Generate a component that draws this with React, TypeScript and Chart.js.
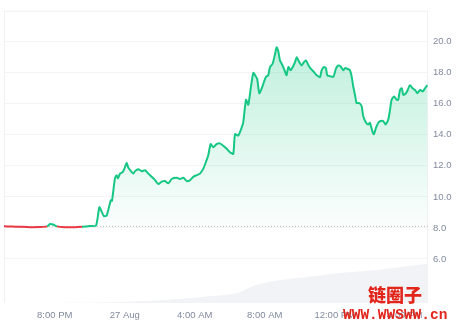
import { useEffect, useRef } from "react";
import { Chart, registerables } from "chart.js";
Chart.register(...registerables);

// hours since 26 Aug 00:00
const times = [
  17.10, 17.56, 18.01, 18.59, 19.16, 19.56, 19.73, 19.90, 20.13, 20.59, 21.16, 21.56, 22.01, 22.36,
  22.55, 22.70, 22.81, 22.97, 23.20, 23.27, 23.44, 23.54, 23.61, 23.73, 23.88, 24.01, 24.11, 24.20,
  24.40, 24.49, 24.59, 24.77, 24.97, 25.16, 25.35, 25.54, 25.73, 25.92, 26.11, 26.30, 26.49, 26.68,
  26.97, 27.16, 27.35, 27.54, 27.73, 27.92, 28.11, 28.30, 28.49, 28.64, 28.77, 28.91, 29.06, 29.25,
  29.44, 29.63, 29.83, 30.01, 30.20, 30.30, 30.49, 30.68, 30.77, 30.93, 31.06, 31.20, 31.35, 31.50,
  31.57, 31.69, 31.83, 31.96, 32.07, 32.20, 32.30, 32.45, 32.59, 32.68, 32.77, 32.87, 32.97, 33.06,
  33.20, 33.25, 33.35, 33.48, 33.60, 33.73, 33.83, 33.97, 34.11, 34.24, 34.36, 34.49, 34.63, 34.81,
  34.97, 35.16, 35.25, 35.39, 35.50, 35.57, 35.73, 35.92, 36.07, 36.20, 36.34, 36.49, 36.59, 36.72,
  36.87, 36.97, 37.06, 37.16, 37.25, 37.40, 37.54, 37.63, 37.79, 37.92, 38.01, 38.17, 38.24, 38.36,
  38.49, 38.63, 38.77, 38.91, 39.06, 39.16, 39.25, 39.39, 39.54, 39.63, 39.73, 39.83, 39.92, 40.07,
  40.17, 40.30, 40.45, 40.59, 40.72, 40.87, 41.03, 41.16, 41.29,
];
const prices = [
  8.10, 8.09, 8.07, 8.05, 8.06, 8.10, 8.25, 8.22, 8.10, 8.05, 8.04, 8.07, 8.12, 8.15,
  9.33, 9.00, 8.76, 8.80, 9.78, 9.75, 11.19, 11.40, 11.20, 11.50, 11.60, 11.90, 12.20, 11.90,
  11.60, 11.50, 11.66, 11.78, 11.65, 11.72, 11.50, 11.30, 11.08, 10.83, 10.98, 11.02, 10.87, 11.15,
  11.23, 11.15, 11.23, 11.02, 11.08, 11.30, 11.40, 11.50, 11.82, 12.25, 12.67, 13.40, 13.20, 13.40,
  13.45, 13.30, 13.10, 12.88, 12.77, 14.04, 13.95, 14.46, 14.78, 16.26, 15.94, 17.00, 17.99, 17.74,
  17.60, 16.68, 17.00, 17.42, 17.74, 17.84, 18.37, 18.58, 19.21, 19.64, 19.40, 18.79, 18.58, 18.37,
  17.95, 17.84, 18.37, 18.16, 18.37, 18.69, 19.00, 18.69, 18.47, 18.69, 18.79, 18.50, 18.26, 18.05,
  17.84, 17.72, 18.16, 18.37, 18.30, 17.84, 17.78, 17.74, 18.26, 18.47, 18.40, 18.16, 18.30, 18.26,
  18.16, 17.74, 17.10, 16.57, 16.05, 16.05, 15.84, 15.20, 14.78, 14.67, 14.78, 14.15, 14.04, 14.46,
  14.78, 14.89, 14.89, 14.67, 14.99, 15.62, 16.26, 16.47, 16.26, 16.26, 16.89, 17.00, 16.57, 16.68,
  16.89, 17.20, 17.00, 16.89, 16.68, 16.89, 16.80, 17.00, 17.20,
];
const volTimes = [17.10, 20.30, 22.59, 25.44, 28.30, 30.41, 31.16, 32.01, 32.70, 34.01, 36.30, 38.59, 41.33];
const volumes = [0, 0.02, 0.15, 0.75, 2.0, 3.3, 5.4, 6.9, 7.7, 8.6, 10.3, 11.4, 13.5];

const baseline = 8.1;
const xTickValues = [20, 24, 28, 32, 36, 40];
const xTickLabels = ["8:00 PM", "27 Aug", "4:00 AM", "8:00 AM", "12:00 PM", "4:00 PM"];
const yTickValues = [6, 8, 10, 12, 14, 16, 18, 20];
const xMin = 17.1;
const xMax = 41.33;
const yMin = 3.16;
const yMax = 22;

const GREEN = "#16c784";
const RED = "#ea3943";
const LABEL = "#808a9d";

const boxPlugin = {
  id: "box",
  beforeDatasetsDraw(chart: any) {
    const { ctx, chartArea: a } = chart;
    ctx.save();
    ctx.strokeStyle = "#eef0f3";
    ctx.lineWidth = 1;
    ctx.beginPath();
    ctx.moveTo(a.left + 0.5, a.bottom);
    ctx.lineTo(a.left + 0.5, a.top + 0.5);
    ctx.lineTo(a.right - 0.5, a.top + 0.5);
    ctx.lineTo(a.right - 0.5, a.bottom);
    ctx.stroke();
    ctx.restore();
  },
};

export default function App() {
  const ref = useRef<HTMLCanvasElement>(null);
  useEffect(() => {
    if (!ref.current) return;
    const chart = new Chart(ref.current, {
      type: "line",
      data: {
        datasets: [
          {
            data: times.map((t, i) => ({ x: t, y: prices[i] })),
            yAxisID: "y",
            borderColor: GREEN,
            borderWidth: 2,
            pointRadius: 0,
            tension: 0.2,
            order: 0,
            backgroundColor: (c: any) => {
              const { chart } = c;
              const a = chart.chartArea;
              if (!a) return "rgba(22,199,132,0.1)";
              const yb = chart.scales.y.getPixelForValue(baseline);
              const g = chart.ctx.createLinearGradient(0, a.top, 0, yb);
              g.addColorStop(0, "rgba(22,199,132,0.32)");
              g.addColorStop(1, "rgba(22,199,132,0.02)");
              return g;
            },
            fill: { value: baseline, below: "rgba(234,57,67,0.08)" } as any,
            segment: {
              borderColor: (c: any) =>
                c.p0.parsed.y <= baseline && c.p1.parsed.y <= baseline ? RED : GREEN,
            },
          } as any,
          {
            data: [
              { x: xMin, y: baseline },
              { x: xMax, y: baseline },
            ],
            yAxisID: "y",
            borderColor: "#b8bdc7",
            borderWidth: 1,
            borderDash: [1, 2],
            pointRadius: 0,
            fill: false,
            order: 1,
          },
          {
            data: volTimes.map((t, i) => ({ x: t, y: volumes[i] })),
            yAxisID: "y2",
            borderWidth: 0,
            borderColor: "rgba(0,0,0,0)",
            backgroundColor: "#f1f3f6",
            pointRadius: 0,
            tension: 0.3,
            fill: "origin",
            order: 2,
          },
        ],
      },
      options: {
        responsive: false,
        animation: false,
        events: [],
        layout: { padding: { left: 4, top: 6, right: 0, bottom: 0 } },
        plugins: { legend: { display: false }, tooltip: { enabled: false } },
        scales: {
          x: {
            type: "linear",
            min: xMin,
            max: xMax,
            afterFit: (s: any) => {
              s.height = 21;
            },
            afterBuildTicks: (s: any) => {
              s.ticks = xTickValues.map((v) => ({ value: v }));
            },
            ticks: {
              autoSkip: false,
              maxRotation: 0,
              padding: 7,
              color: LABEL,
              font: { family: "'Liberation Sans', Arial, sans-serif", size: 9.5 },
              callback: (v: any) => {
                const i = xTickValues.indexOf(v);
                return i >= 0 ? xTickLabels[i] : "";
              },
            },
            grid: { display: false, drawTicks: false },
            border: { display: false },
          },
          y: {
            position: "right",
            min: yMin,
            max: yMax,
            afterFit: (s: any) => {
              s.width = 29;
            },
            afterBuildTicks: (s: any) => {
              s.ticks = yTickValues.map((v) => ({ value: v }));
            },
            ticks: {
              padding: 5,
              color: LABEL,
              font: { family: "'Liberation Sans', Arial, sans-serif", size: 9.5 },
              callback: (v: any) => Number(v).toFixed(1),
            },
            grid: { color: "rgba(0,0,0,0.045)", drawTicks: false },
            border: { display: false },
          },
          y2: {
            display: false,
            min: 0,
            max: 100,
          },
        },
      },
      plugins: [boxPlugin],
    });
    return () => chart.destroy();
  }, []);

  return (
    <div style={{ position: "fixed", left: 0, top: 0, width: 457, height: 324, background: "#fff" }}>
      <canvas ref={ref} width={457} height={324} style={{ display: "block" }} />
      <div
        style={{
          position: "absolute",
          left: 368,
          top: 284,
          fontFamily: "'Noto Sans CJK SC', sans-serif",
          fontWeight: 900,
          fontSize: 18,
          lineHeight: "20px",
          color: "#e3261c",
          whiteSpace: "nowrap",
        }}
      >
        链圈子
      </div>
      <div
        style={{
          position: "absolute",
          left: 343,
          top: 307,
          fontFamily: "'Liberation Mono', monospace",
          fontWeight: 700,
          fontSize: 14.5,
          lineHeight: "17px",
          color: "#e3261c",
          whiteSpace: "nowrap",
        }}
      >
        WWW.WWSWW.cn
      </div>
    </div>
  );
}
